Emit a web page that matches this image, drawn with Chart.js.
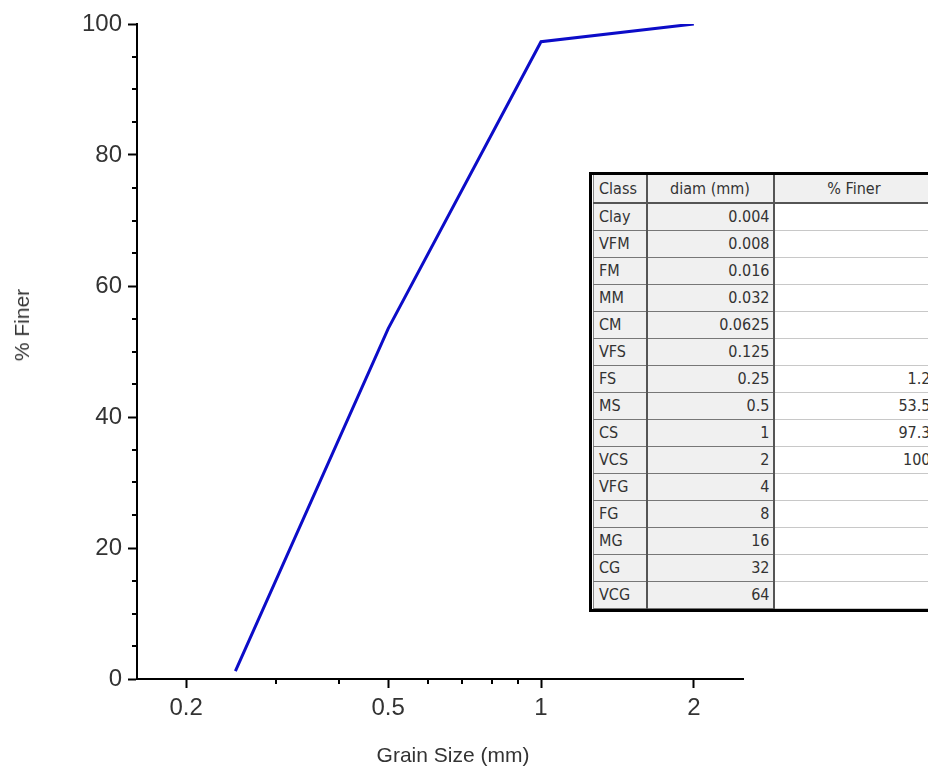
<!DOCTYPE html>
<html>
<head>
<meta charset="utf-8">
<script src="https://cdn.jsdelivr.net/npm/chart.js@4.4.1/dist/chart.umd.min.js"></script>
<style>
    html, body { margin: 0; padding: 0; background: #fff; overflow: hidden; }
    #wrap { position: relative; width: 928px; height: 769px; overflow: hidden; }
    .axis-title { position: absolute; font-family: "Liberation Sans", Arial, sans-serif; font-size: 21px; color: #333; white-space: nowrap; }
    #ytitle { left: 22px; top: 325px; transform: translate(-50%, -50%) rotate(-90deg); }
    #xtitle { left: 453px; top: 755px; transform: translate(-50%, -50%); }
    #tbox { position: absolute; left: 589px; top: 172px; width: 350px; border: 3px solid #000; border-right: none; padding-left: 1px; background: #fff; }
    #grainTable { table-layout: fixed; width: 340px; border-collapse: collapse; border-left: 1px solid #888; font-family: "DejaVu Sans Condensed", "DejaVu Sans", sans-serif; font-stretch: condensed; font-size: 16px; color: #333; }
    #grainTable td, #grainTable th { box-sizing: border-box; height: 27px; padding: 0 3px; font-weight: normal; white-space: nowrap; overflow: hidden; }
    #grainTable th { height: 28px; background: #f0f0f0; border-bottom: 2px solid #555; border-right: 2px solid #555; text-align: center; }
    #grainTable th.cls { text-align: left; }
    #grainTable th.pct { border-right: none; }
    .cls { width: 53px; background: #f0f0f0; border-right: 2px solid #555; border-bottom: 1px solid #777; text-align: left; padding-left: 5px !important; }
    .diam { width: 127px; background: #f0f0f0; border-right: 2px solid #555; border-bottom: 1px solid #777; text-align: right; }
    .pct { width: 160px; background: #fff; border-bottom: 1px solid #c8c8c8; text-align: right; }
</style>
</head>
<body>
<div id="wrap">
    <canvas id="gsChart"></canvas>
    <div class="axis-title" id="ytitle">% Finer</div>
    <div class="axis-title" id="xtitle">Grain Size (mm)</div>
    <div id="tbox"><table id="grainTable"><thead></thead><tbody></tbody></table></div>
</div>
<script>
// grain size classes (Wentworth)
const classes = ['Clay', 'VFM', 'FM', 'MM', 'CM', 'VFS', 'FS', 'MS', 'CS', 'VCS', 'VFG', 'FG', 'MG', 'CG', 'VCG'];
const diameters = [0.004, 0.008, 0.016, 0.032, 0.0625, 0.125, 0.25, 0.5, 1, 2, 4, 8, 16, 32, 64];
const percentFiner = [null, null, null, null, null, null, 1.2, 53.5, 97.3, 100, null, null, null, null, null];
const tableHeaders = ['Class', 'diam (mm)', '% Finer'];

// axis ticks
const xMajorTicks = [0.2, 0.5, 1, 2];
const xMinorTicks = [0.3, 0.4, 0.6, 0.7, 0.8, 0.9];
const yMajorTicks = [0, 20, 40, 60, 80, 100];
const yMinorTicks = [5, 10, 15, 25, 30, 35, 45, 50, 55, 65, 70, 75, 85, 90, 95];

// ----- Table -----
function buildTable() {
    const thead = document.querySelector('#grainTable thead');
    const tbody = document.querySelector('#grainTable tbody');
    const hr = document.createElement('tr');
    tableHeaders.forEach((h, i) => {
        const th = document.createElement('th');
        th.textContent = h;
        th.className = ['cls', 'diam', 'pct'][i];
        hr.appendChild(th);
    });
    thead.appendChild(hr);

    classes.forEach((c, i) => {
        const row = document.createElement('tr');
        const pct = percentFiner[i] === null ? '' : String(percentFiner[i]);
        row.innerHTML = `<td class="cls">${c}</td><td class="diam">${diameters[i]}</td><td class="pct">${pct}</td>`;
        tbody.appendChild(row);
    });
}

// minor ticks drawn through the scales
const minorTickPlugin = {
    id: 'minorTicks',
    afterDraw(chart) {
        const ctx = chart.ctx;
        const xs = chart.scales.x, ys = chart.scales.y;
        ctx.save();
        ctx.strokeStyle = '#000';
        ctx.lineWidth = 2;
        ctx.beginPath();
        xMinorTicks.forEach(v => {
            const px = Math.round(xs.getPixelForValue(v));
            ctx.moveTo(px, xs.top);
            ctx.lineTo(px, xs.top + 5);
        });
        yMinorTicks.forEach(v => {
            const py = Math.round(ys.getPixelForValue(v));
            ctx.moveTo(ys.right - 5, py);
            ctx.lineTo(ys.right, py);
        });
        ctx.stroke();
        ctx.restore();
    }
};

function initChart() {
    const points = [];
    diameters.forEach((d, i) => {
        if (percentFiner[i] !== null) points.push({ x: d, y: percentFiner[i] });
    });

    const tickFont = { family: '"Liberation Sans", Arial, sans-serif', size: 24 };
    const ctx = document.getElementById('gsChart').getContext('2d');
    return new Chart(ctx, {
        type: 'scatter',
        data: { datasets: [{ data: points, showLine: true, borderColor: '#0c0cc8', borderWidth: 3, pointRadius: 0, fill: false }] },
        options: {
            responsive: true,
            maintainAspectRatio: false,
            animation: false,
            layout: { padding: { top: 24, right: 185, left: 0, bottom: 0 } },
            plugins: { legend: { display: false }, tooltip: { enabled: false } },
            scales: {
                x: {
                    type: 'logarithmic',
                    min: 0.16,
                    max: 2.5,
                    afterBuildTicks: s => { s.ticks = xMajorTicks.map(v => ({ value: v })); },
                    afterFit: s => { s.height = 90; },
                    ticks: { autoSkip: false, maxRotation: 0, padding: 6, color: '#333', font: tickFont, callback: v => String(v) },
                    grid: { drawOnChartArea: false, tickLength: 9, tickWidth: 2, tickColor: '#000' },
                    border: { color: '#000', width: 2 }
                },
                y: {
                    min: 0,
                    max: 100,
                    afterBuildTicks: s => { s.ticks = yMajorTicks.map(v => ({ value: v })); },
                    afterFit: s => { s.width = 137; },
                    ticks: { padding: 6, color: '#333', font: tickFont },
                    grid: { drawOnChartArea: false, tickLength: 9, tickWidth: 2, tickColor: '#000' },
                    border: { color: '#000', width: 2 }
                }
            }
        },
        plugins: [minorTickPlugin]
    });
}

document.getElementById('gsChart').parentNode.style.height = '769px';
buildTable();
initChart();
</script>
</body>
</html>
